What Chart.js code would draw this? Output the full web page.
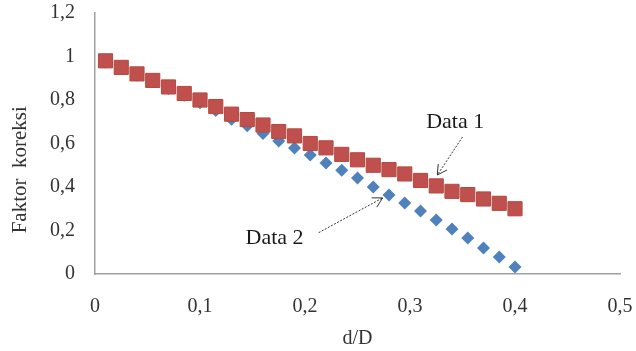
<!DOCTYPE html>
<html>
<head>
<meta charset="utf-8">
<script src="https://cdn.jsdelivr.net/npm/chart.js@4/dist/chart.umd.min.js"></script>
<style>
  html, body { margin: 0; padding: 0; background: #fff; }
  #wrap { width: 636px; height: 351px; }
</style>
</head>
<body>
<div id="wrap"><canvas id="c" width="636" height="351"></canvas></div>
<script>
// ---- data ----
const xValues = [0.01,0.025,0.04,0.055,0.07,0.085,0.10,0.115,0.13,0.145,0.16,0.175,0.19,0.205,0.22,0.235,0.25,0.265,0.28,0.295,0.31,0.325,0.34,0.355,0.37,0.385,0.40];
const data1 = [0.98,0.95,0.92,0.89,0.86,0.83,0.80,0.77,0.735,0.71,0.685,0.655,0.635,0.60,0.58,0.55,0.525,0.50,0.48,0.46,0.43,0.405,0.38,0.365,0.345,0.325,0.30];
const data2 = [0.975,0.945,0.915,0.885,0.853,0.822,0.787,0.752,0.712,0.682,0.646,0.611,0.579,0.547,0.51,0.477,0.441,0.40,0.363,0.326,0.29,0.248,0.207,0.166,0.12,0.078,0.032];
const xTicks = [0, 0.1, 0.2, 0.3, 0.4, 0.5];
const yTicks = [0, 0.2, 0.4, 0.6, 0.8, 1.0, 1.2];
const seriesNames = ['Data 1', 'Data 2'];
const xTitle = 'd/D';
const yTitle = 'Faktor  koreksi          ';

const FONT = 'Liberation Serif, Times New Roman, serif';
const fmt = v => String(Math.round(v * 10) / 10).replace('.', ',');

// annotations (data coordinates)
const notes = [
  { text: seriesNames[0], tx: 0.343, ty: 0.70, from: [0.350, 0.630], to: [0.326, 0.455] },
  { text: seriesNames[1], tx: 0.171, ty: 0.166, from: [0.213, 0.190], to: [0.274, 0.350] }
];

const noPad = s => { s.paddingTop = 0; s.paddingBottom = 0; s.paddingLeft = 0; s.paddingRight = 0; };

const annotate = {
  id: 'annotate',
  afterDatasetsDraw(chart) {
    const { ctx, scales: { x, y } } = chart;
    ctx.save();
    ctx.font = '22px ' + FONT;
    ctx.fillStyle = '#1a1a1a';
    ctx.textAlign = 'center';
    ctx.textBaseline = 'middle';
    notes.forEach(n => {
      ctx.fillText(n.text, x.getPixelForValue(n.tx), y.getPixelForValue(n.ty));
      const x1 = x.getPixelForValue(n.from[0]), y1 = y.getPixelForValue(n.from[1]);
      const x2 = x.getPixelForValue(n.to[0]), y2 = y.getPixelForValue(n.to[1]);
      ctx.strokeStyle = '#333';
      ctx.lineWidth = 1;
      ctx.setLineDash([2, 1.5]);
      ctx.beginPath(); ctx.moveTo(x1, y1); ctx.lineTo(x2, y2); ctx.stroke();
      ctx.setLineDash([]);
      const a = Math.atan2(y2 - y1, x2 - x1), L = 11, w = 0.5;
      ctx.beginPath();
      ctx.moveTo(x2 - L * Math.cos(a - w), y2 - L * Math.sin(a - w));
      ctx.lineTo(x2, y2);
      ctx.lineTo(x2 - L * Math.cos(a + w), y2 - L * Math.sin(a + w));
      ctx.stroke();
    });
    ctx.restore();
  }
};

new Chart(document.getElementById('c'), {
  type: 'scatter',
  data: {
    datasets: [
      {
        label: seriesNames[1],
        data: xValues.map((v, i) => ({ x: v, y: data2[i] })),
        pointStyle: 'rectRot',
        pointRadius: 6.5,
        backgroundColor: '#4F81BD',
        borderColor: '#4A7AB5',
        borderWidth: 0,
        order: 2
      },
      {
        label: seriesNames[0],
        data: xValues.map((v, i) => ({ x: v, y: data1[i] })),
        pointStyle: 'rect',
        pointRadius: 10,
        backgroundColor: '#C0504D',
        borderColor: '#B5483F',
        borderWidth: 1,
        order: 1
      }
    ]
  },
  options: {
    responsive: false,
    animation: false,
    events: [],
    layout: { padding: { top: 13, right: 16, bottom: 0, left: 0 } },
    plugins: { legend: { display: false }, tooltip: { enabled: false } },
    scales: {
      x: {
        type: 'linear',
        min: 0, max: 0.5,
        afterBuildTicks: s => { s.ticks = xTicks.map(v => ({ value: v })); },
        afterFit: s => { s.height = 77; noPad(s); },
        grid: { display: false, drawTicks: false },
        border: { display: true, color: '#A0A0A0', width: 1.5 },
        ticks: { padding: 21, color: '#333', font: { family: FONT, size: 20 }, callback: v => fmt(v), maxRotation: 0 },
        title: { display: true, text: xTitle, color: '#333', font: { family: FONT, size: 20 }, padding: { top: 0, bottom: 0 } }
      },
      y: {
        type: 'linear',
        min: 0, max: 1.2,
        afterBuildTicks: s => { s.ticks = yTicks.map(v => ({ value: v })); },
        afterFit: s => { s.width = 95; noPad(s); },
        grid: { display: false, drawTicks: false },
        border: { display: true, color: '#A0A0A0', width: 1.5 },
        ticks: { padding: 20, color: '#333', font: { family: FONT, size: 20 }, callback: v => fmt(v) },
        title: { display: true, text: yTitle, color: '#333', font: { family: FONT, size: 21 }, padding: { top: 8, bottom: 0 } }
      }
    }
  },
  plugins: [annotate]
});
</script>
</body>
</html>
